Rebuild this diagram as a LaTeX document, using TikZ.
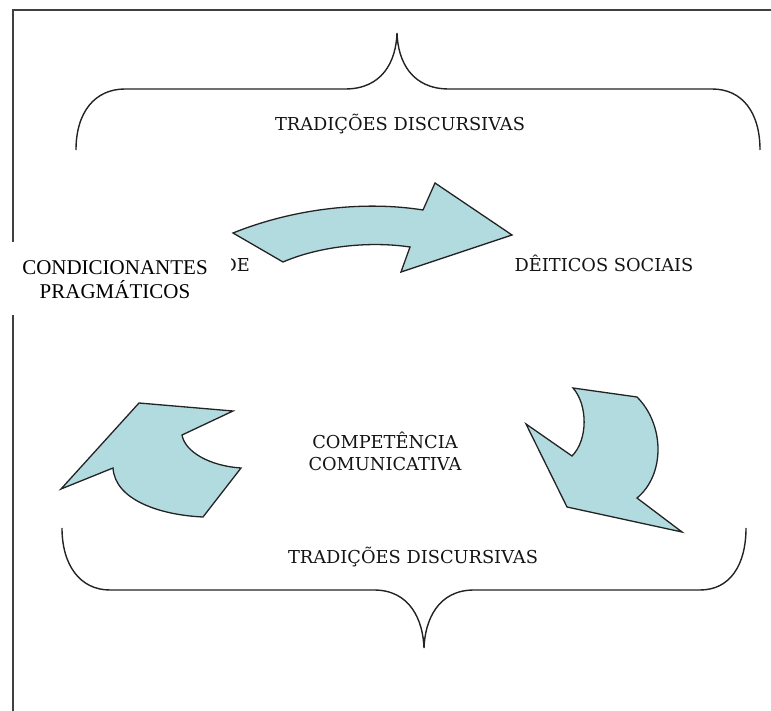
\documentclass[tikz,border=0pt]{standalone}
\usepackage{fontspec}
\setmainfont{Liberation Serif}
\newfontfamily\slab{DejaVu Serif}
\definecolor{arrowfill}{RGB}{178,219,224}
\definecolor{edgecol}{RGB}{35,35,35}
\begin{document}
\begin{tikzpicture}[x=1pt,y=-1pt,
  blockarrow/.style={fill=arrowfill,draw=edgecol,line width=1.3pt,line join=miter},
  bracepath/.style={draw=edgecol,line width=1.4pt},
  slabtext/.style={font=\slab\fontsize{17.8}{22}\selectfont,text=black!92,inner sep=0pt,align=center},
  labeltext/.style={font=\fontsize{21}{24}\selectfont,text=black,inner sep=0pt,align=center}]
\useasboundingbox (0,0) rectangle (771,711);
% frame
\draw[line width=2.5pt,draw=black!75] (771,10) -- (13,10) -- (13,711);
% top brace
\draw[bracepath] (76,150) .. controls (76,112) and (95,89) .. (125,89) -- (345,89)
  .. controls (382,89) and (396,62) .. (397,33)
  .. controls (398,62) and (412,89) .. (449,89) -- (712,89)
  .. controls (742,89) and (760,112) .. (760,150);
% bottom brace
\draw[bracepath] (62,528) .. controls (62,565) and (80,590) .. (110,590) -- (374,590)
  .. controls (410,590) and (423,620) .. (424,648)
  .. controls (425,620) and (438,590) .. (474,590) -- (700,590)
  .. controls (730,590) and (746,565) .. (746,528);
% top arrow
\draw[blockarrow] (233,233) .. controls (290,210) and (360,200) .. (423,210)
  -- (435,183) -- (512,235) -- (401,272) -- (410,247)
  .. controls (370,241) and (320,246) .. (283,262) -- cycle;
% left arrow
\draw[blockarrow] (61,489) -- (139,403) -- (233,411) -- (182,435)
  .. controls (185,452) and (210,466) .. (241,468) -- (203,517)
  .. controls (160,515) and (115,500) .. (113,468) -- cycle;
% right arrow
\draw[blockarrow] (573,388) -- (637,397) .. controls (665,425) and (665,475) .. (637,498)
  -- (682,532) -- (567,507) -- (526,424) -- (572,456)
  .. controls (588,440) and (588,405) .. (573,388) -- cycle;
% texts
\node[slabtext] (td1) at (400,124) {TRADIÇÕES DISCURSIVAS};
\node[slabtext] (ds) at (604,263) {DÊITICOS SOCIAIS};
\node[slabtext] (cc) at (385,451) {COMPETÊNCIA\\COMUNICATIVA};
\node[slabtext] (td2) at (413,557) {TRADIÇÕES DISCURSIVAS};
\node[slabtext,anchor=east] (de) at (250,265) {DE};
% label covering
\fill[white] (4,242) rectangle (231,315);
\node[labeltext] (cp) at (115,280) {CONDICIONANTES\\PRAGMÁTICOS};
\end{tikzpicture}
\end{document}
